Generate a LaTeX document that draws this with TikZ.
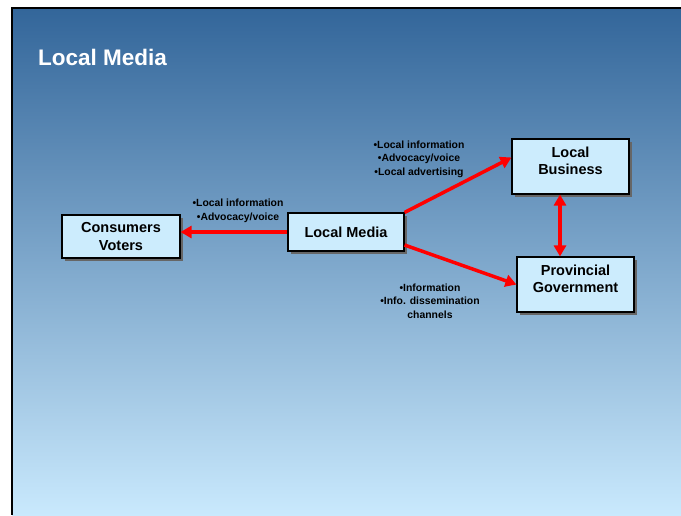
\documentclass[tikz,border=0pt]{standalone}
\usepackage{fontspec}
\setmainfont{Liberation Sans}
\usetikzlibrary{arrows.meta,shadows}

\definecolor{slidetop}{HTML}{33669A}
\definecolor{slidebot}{HTML}{C9E9FD}
\definecolor{boxfill}{HTML}{CCECFD}
\definecolor{arrowred}{HTML}{FF0000}

\begin{document}
\begin{tikzpicture}[x=1pt, y=-1pt,
  box/.style={draw=black, line width=1.1pt, fill=boxfill, align=center,
    font=\fontsize{14.5}{17.5}\selectfont\bfseries,
    drop shadow={shadow xshift=3pt, shadow yshift=-3pt, fill=black!60, opacity=1}},
  tallbox/.style={box, minimum width=117pt, minimum height=55pt, text depth=12pt},
  note/.style={align=center, font=\fontsize{10.4}{13.5}\selectfont\bfseries},
  link/.style={draw=arrowred, line width=3.5pt,
    -{Triangle[length=11pt, width=12pt]}}]

  \useasboundingbox (0,0) rectangle (681,515);

  % slide background and its edge
  \shade[top color=slidetop, bottom color=slidebot] (12,9) rectangle (681,515);
  \draw[line width=2pt] (681,8) -- (11.5,8) -- (11.5,515);

  \node[anchor=west, text=white, font=\fontsize{22.5}{26}\selectfont\bfseries]
    (title) at (34.5,57) {Local Media};

  % the boxes
  \node[box, minimum width=118pt, minimum height=43pt] (voters) at (121,236.5)
    {Consumers\\Voters};
  \node[box, minimum width=116pt, minimum height=38pt] (media) at (346,232)
    {Local Media};
  \node[tallbox] (business) at (570.5,166.5) {Local\\Business};
  \node[tallbox] (province) at (575.5,284.5) {Provincial\\Government};

  % what flows along each link
  \node[note] (toVoters) at (238,211)
    {\textbullet Local information\\\textbullet Advocacy/voice};
  \node[note] (toBusiness) at (419,159)
    {\textbullet Local information\\\textbullet Advocacy/voice\\\textbullet Local advertising};
  \node[note] (toProvince) at (430,301)
    {\textbullet Information\\\textbullet Info. dissemination\\channels};

  % links
  \draw[link] (media.west) -- (voters.east |- media.west);
  \draw[link] (media.north east) -- ([yshift=9pt]business.west);
  \draw[link] ([yshift=-13pt]media.east) -- (province.west);
  \draw[link, {Triangle[length=11pt, width=12pt]}-{Triangle[length=11pt, width=12pt]}]
    ([xshift=-10.5pt]business.south) -- ([xshift=-10.5pt]business.south |- province.north);

\end{tikzpicture}
\end{document}
